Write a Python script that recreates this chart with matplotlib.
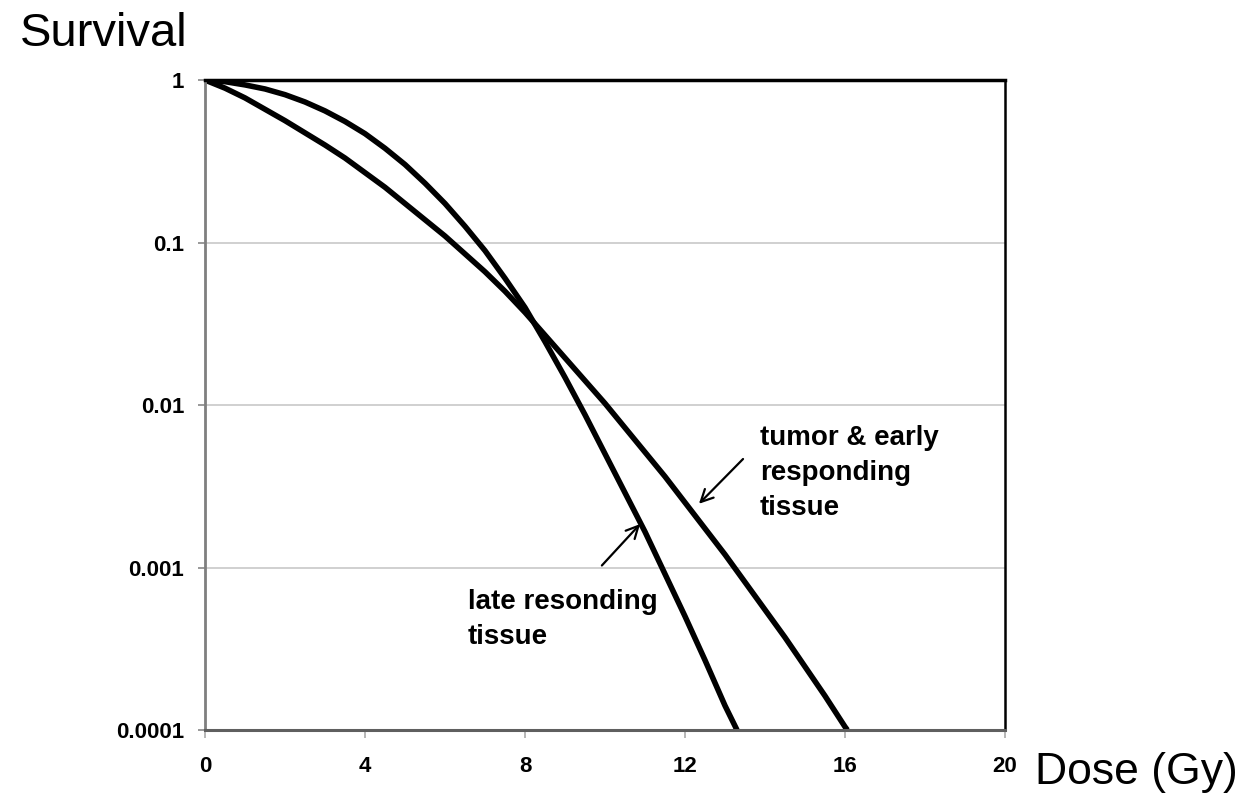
import matplotlib
matplotlib.use("Agg")
import matplotlib.pyplot as plt
import numpy as np

# survival curves (log10 of surviving fraction)
dose_tumor = [0, 0.5, 1, 1.5, 2, 2.5, 3, 3.5, 4, 4.5, 5, 5.5, 6, 6.5, 7, 7.5, 8, 8.5,
              9, 9.5, 10, 10.5, 11, 11.5, 12, 12.5, 13, 13.5, 14, 14.5, 15, 15.5, 16, 16.06]
logs_tumor = [0, -0.05, -0.11, -0.18, -0.25, -0.325, -0.40, -0.48, -0.57, -0.66, -0.76,
              -0.86, -0.96, -1.07, -1.18, -1.30, -1.43, -1.57, -1.71, -1.85, -1.99, -2.14,
              -2.29, -2.44, -2.60, -2.76, -2.92, -3.09, -3.26, -3.43, -3.61, -3.79, -3.98, -4.0]

dose_late = [0, 0.5, 1, 1.5, 2, 2.5, 3, 3.5, 4, 4.5, 5, 5.5, 6, 6.5, 7, 7.5, 8, 8.5,
             9, 9.5, 10, 10.5, 11, 11.5, 12, 12.5, 13, 13.3]
logs_late = [0, -0.01, -0.03, -0.055, -0.09, -0.135, -0.19, -0.255, -0.33, -0.42, -0.52,
             -0.635, -0.76, -0.90, -1.05, -1.22, -1.40, -1.61, -1.83, -2.06, -2.30, -2.54,
             -2.78, -3.04, -3.30, -3.57, -3.85, -4.0]

x_ticks = [0, 4, 8, 12, 16, 20]
y_ticks = [1, 0.1, 0.01, 0.001, 0.0001]
y_labels = ['1', '0.1', '0.01', '0.001', '0.0001']

text_font = ['Liberation Sans', 'DejaVu Sans']

fig = plt.figure(figsize=(12.57, 7.98), dpi=100)
ax = fig.add_axes([0.1631, 0.0852, 0.6364, 0.8145])

ax.plot(dose_late, np.power(10.0, logs_late), color='black', lw=4,
        solid_joinstyle='round', solid_capstyle='butt')
ax.plot(dose_tumor, np.power(10.0, logs_tumor), color='black', lw=4,
        solid_joinstyle='round', solid_capstyle='butt')

ax.set_yscale('log')
ax.set_xlim(0, 20)
ax.set_ylim(0.0001, 1)
ax.set_xticks(x_ticks)
ax.set_xticklabels([str(t) for t in x_ticks])
ax.set_yticks(y_ticks)
ax.set_yticklabels(y_labels)
ax.minorticks_off()
ax.yaxis.grid(True, color='#c8c8c8', lw=1.2)
ax.set_axisbelow(True)

for lab in ax.get_xticklabels() + ax.get_yticklabels():
    lab.set_family(text_font)
    lab.set_fontweight('bold')
    lab.set_fontsize(16)
ax.tick_params(axis='y', direction='out', length=5, width=1.2, color='#888888', pad=10)
ax.tick_params(axis='x', direction='out', length=6, width=1.2, color='#aaaaaa', pad=13)

ax.spines['left'].set_color('#7f7f7f')
ax.spines['left'].set_linewidth(2)
ax.spines['bottom'].set_color('#5f5f5f')
ax.spines['bottom'].set_linewidth(2.2)
ax.spines['top'].set_color('black')
ax.spines['top'].set_linewidth(2.5)
ax.spines['right'].set_color('black')
ax.spines['right'].set_linewidth(1.8)

# labels with arrows
ax.text(13.875, 10 ** -2.12, 'tumor & early\nresponding\ntissue', family=text_font,
        fontweight='bold', fontsize=20, va='top', ha='left', linespacing=1.45)
ax.text(6.575, 10 ** -3.13, 'late resonding\ntissue', family=text_font,
        fontweight='bold', fontsize=20, va='top', ha='left', linespacing=1.45)
ax.annotate('', xy=(12.3, 10 ** -2.62), xytext=(13.5, 10 ** -2.32),
            arrowprops=dict(arrowstyle='->', lw=1.6, color='black', mutation_scale=22))
ax.annotate('', xy=(10.925, 10 ** -2.72), xytext=(9.875, 10 ** -3.0),
            arrowprops=dict(arrowstyle='->', lw=1.6, color='black', mutation_scale=22))

fig.text(20 / 1257, 1 - 12 / 798, 'Survival', family=text_font, fontsize=34, va='top', ha='left')
fig.text(1035 / 1257, 1 - 784 / 798, 'Dose (Gy)', family=text_font, fontsize=32,
         va='baseline', ha='left')

fig.savefig('out.png', dpi=100)
